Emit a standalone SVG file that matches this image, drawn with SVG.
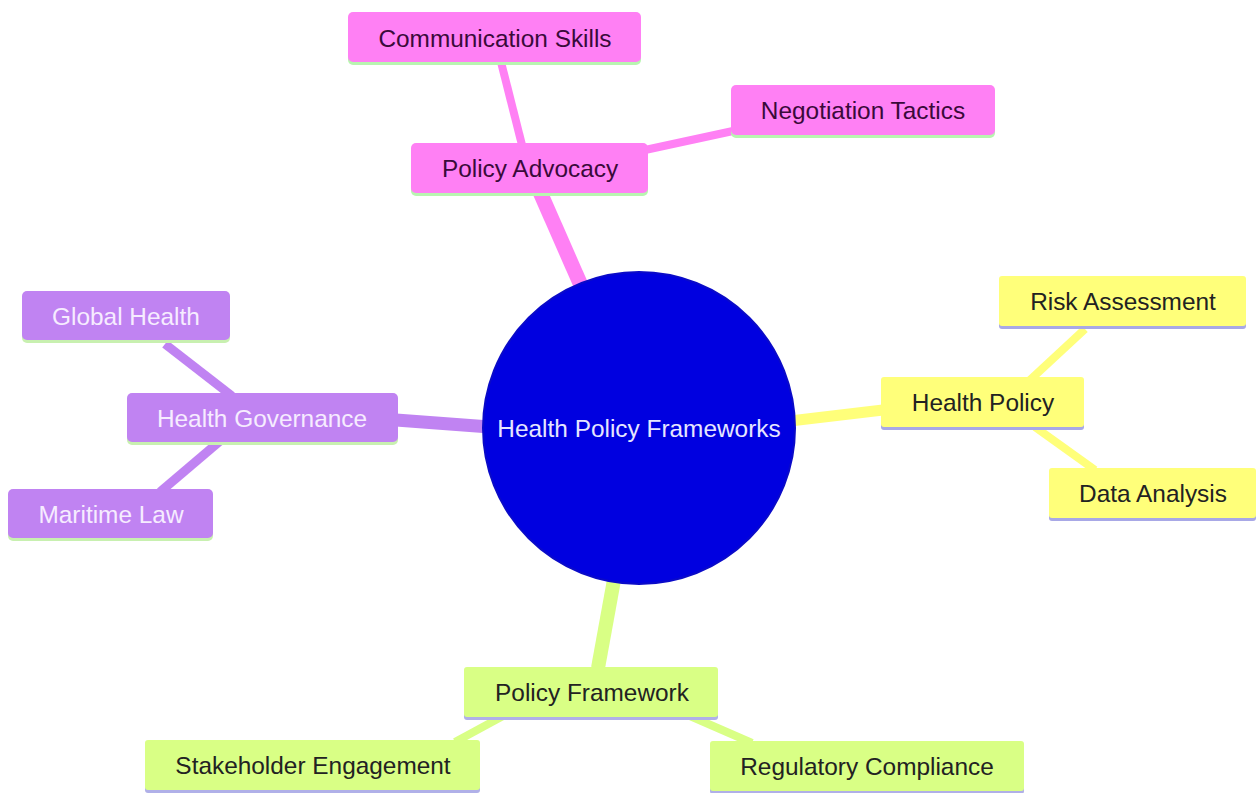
<svg xmlns="http://www.w3.org/2000/svg" width="1256" height="793" viewBox="0 0 1256 793">
<style>
text{font-family:"Liberation Sans",Arial,sans-serif;font-size:24.4px;text-anchor:middle;dominant-baseline:central}
.pk rect.b{fill:#ff80f4}.pk .u{fill:#b8f5b0}.pk text{fill:#3a0a3a}
.pu rect.b{fill:#c083f2}.pu .u{fill:#c8f0b0}.pu text{fill:#f6ecff}
.ye rect.b{fill:#ffff7a}.ye .u{fill:#a8a8e6}.ye text{fill:#222}
.gr rect.b{fill:#d9ff85}.gr .u{fill:#b0b0e8}.gr text{fill:#222}
#edges line{stroke-linecap:butt}
</style>
<rect width="1256" height="793" fill="#fff"/>
<g id="edges">
<line x1="583" y1="290" x2="540" y2="192" stroke="#ff80f4" stroke-width="15"/>
<line x1="522" y1="145" x2="501" y2="62" stroke="#ff80f4" stroke-width="8"/>
<line x1="645" y1="150" x2="733" y2="131" stroke="#ff80f4" stroke-width="8"/>
<line x1="490" y1="427" x2="396" y2="420" stroke="#c083f2" stroke-width="13"/>
<line x1="232" y1="396" x2="165" y2="344" stroke="#c083f2" stroke-width="9"/>
<line x1="220" y1="441" x2="160" y2="492" stroke="#c083f2" stroke-width="9"/>
<line x1="790" y1="421" x2="883" y2="410" stroke="#ffff7a" stroke-width="11"/>
<line x1="1030" y1="380" x2="1085" y2="329" stroke="#ffff7a" stroke-width="8"/>
<line x1="1035" y1="427" x2="1095" y2="470" stroke="#ffff7a" stroke-width="8"/>
<line x1="614" y1="580" x2="598" y2="668" stroke="#d9ff85" stroke-width="14"/>
<line x1="503" y1="716" x2="455" y2="742" stroke="#d9ff85" stroke-width="8"/>
<line x1="690" y1="716" x2="752" y2="743" stroke="#d9ff85" stroke-width="8"/>
</g>
<g id="root">
<circle cx="639" cy="428" r="156" fill="#0000e0" stroke="#0a0ac8" stroke-width="2"/>
<text x="639" y="428" fill="#e6e6ff">Health Policy Frameworks</text>
</g>
<g id="policy-advocacy" class="pk"><rect class="u" x="411" y="146" width="237" height="50" rx="5"/><rect class="b" x="411" y="143" width="237" height="50" rx="5"/><text x="530" y="168">Policy Advocacy</text></g>
<g id="communication-skills" class="pk"><rect class="u" x="348" y="15" width="293" height="50" rx="5"/><rect class="b" x="348" y="12" width="293" height="50" rx="5"/><text x="495" y="38">Communication Skills</text></g>
<g id="negotiation-tactics" class="pk"><rect class="u" x="731" y="88" width="264" height="50" rx="5"/><rect class="b" x="731" y="85" width="264" height="50" rx="5"/><text x="863" y="110">Negotiation Tactics</text></g>
<g id="health-governance" class="pu"><rect class="u" x="127" y="396" width="271" height="49" rx="5"/><rect class="b" x="127" y="393" width="271" height="49" rx="5"/><text x="262" y="418">Health Governance</text></g>
<g id="global-health" class="pu"><rect class="u" x="22" y="294" width="208" height="49" rx="5"/><rect class="b" x="22" y="291" width="208" height="49" rx="5"/><text x="126" y="316">Global Health</text></g>
<g id="maritime-law" class="pu"><rect class="u" x="8" y="492" width="205" height="49" rx="5"/><rect class="b" x="8" y="489" width="205" height="49" rx="5"/><text x="111" y="514">Maritime Law</text></g>
<g id="health-policy" class="ye"><rect class="u" x="881" y="380" width="203" height="50" rx="3"/><rect class="b" x="881" y="377" width="203" height="50" rx="3"/><text x="983" y="402">Health Policy</text></g>
<g id="risk-assessment" class="ye"><rect class="u" x="999" y="279" width="247" height="50" rx="3"/><rect class="b" x="999" y="276" width="247" height="50" rx="3"/><text x="1123" y="301">Risk Assessment</text></g>
<g id="data-analysis" class="ye"><rect class="u" x="1049" y="471" width="207" height="50" rx="3"/><rect class="b" x="1049" y="468" width="207" height="50" rx="3"/><text x="1153" y="493">Data Analysis</text></g>
<g id="policy-framework" class="gr"><rect class="u" x="464" y="670" width="254" height="50" rx="3"/><rect class="b" x="464" y="667" width="254" height="50" rx="3"/><text x="592" y="692">Policy Framework</text></g>
<g id="stakeholder-engagement" class="gr"><rect class="u" x="145" y="743" width="335" height="50" rx="3"/><rect class="b" x="145" y="740" width="335" height="50" rx="3"/><text x="313" y="765">Stakeholder Engagement</text></g>
<g id="regulatory-compliance" class="gr"><rect class="u" x="710" y="744" width="314" height="50" rx="3"/><rect class="b" x="710" y="741" width="314" height="50" rx="3"/><text x="867" y="766">Regulatory Compliance</text></g>
</svg>
